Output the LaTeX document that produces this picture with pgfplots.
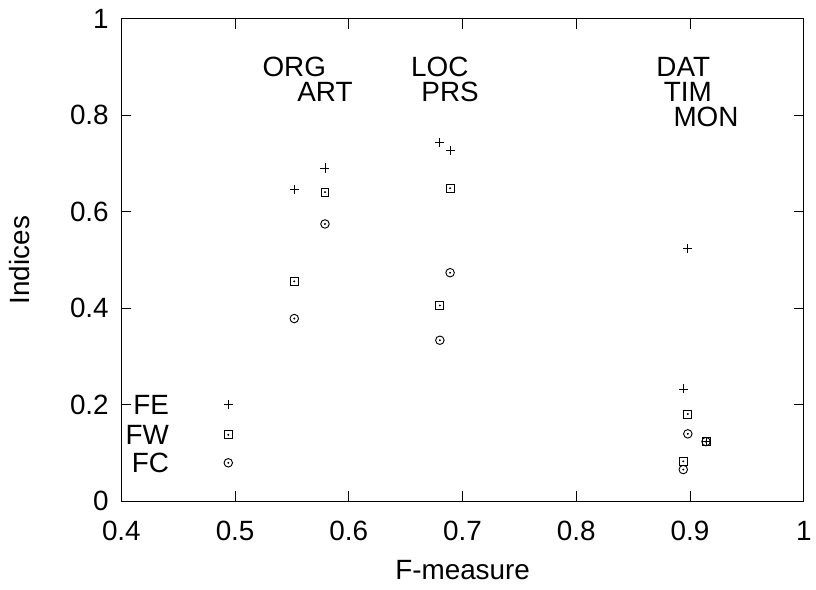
\documentclass[border=0pt]{standalone}
\usepackage{fontspec}
\setmainfont{Liberation Sans}
\usepackage{pgfplots}
\usepackage{pgfplotstable}
\pgfplotsset{compat=1.18}

% x = F-measure, FE / FW / FC indices per entity type
\pgfplotstableread{
name x    fe    fw    fc
ORG  0.552 0.647 0.456 0.379
ART  0.579 0.691 0.641 0.575
LOC  0.680 0.744 0.406 0.334
PRS  0.689 0.728 0.649 0.474
DAT  0.894 0.233 0.083 0.066
TIM  0.898 0.524 0.181 0.140
MON  0.914 0.124 0.124 0.124
}\entities

\newcommand{\bigfont}{\fontsize{21}{25}\selectfont}

\begin{document}
\begin{tikzpicture}
\begin{axis}[
    scale only axis,
    width=514.5pt, height=363.75pt,
    xmin=0.4, xmax=1, ymin=0, ymax=1,
    xtick={0.4,0.5,...,1.0},
    ytick={0,0.2,...,1.0},
    axis line style={line width=0.8pt},
    tick style={line width=0.8pt, black},
    major tick length=7.5pt,
    tick align=inside,
    /pgf/number format/assume math mode=true,
    tick label style={font=\bigfont},
    xticklabel style={yshift=-11.5pt},
    yticklabel style={xshift=-6pt},
    label style={font=\bigfont},
    xlabel={F-measure},
    ylabel={Indices},
    xlabel style={at={(axis description cs:0.5,-0.142)}, anchor=center},
    ylabel style={at={(axis description cs:-0.149,0.5)}, anchor=center},
    clip=false,
]
% FE: plus
\addplot[only marks, mark=+, mark size=3.4pt, mark options={line width=0.7pt}] table[x=x, y=fe] {\entities};
% FW: square with centre dot
\addplot[only marks, mark=square, mark size=3pt, mark options={line width=0.7pt}] table[x=x, y=fw] {\entities};
\addplot[only marks, mark=*, mark size=0.5pt] table[x=x, y=fw] {\entities};
% FC: circle with centre dot
\addplot[only marks, mark=o, mark size=3.2pt, mark options={line width=0.7pt}] table[x=x, y=fc] {\entities};
\addplot[only marks, mark=*, mark size=0.5pt] table[x=x, y=fc] {\entities};

% key, left
\addplot[only marks, mark=+, mark size=3.4pt, mark options={line width=0.7pt}] coordinates {(0.494,0.200)};
\addplot[only marks, mark=square, mark size=3pt, mark options={line width=0.7pt}] coordinates {(0.494,0.138)};
\addplot[only marks, mark=o, mark size=3.2pt, mark options={line width=0.7pt}] coordinates {(0.494,0.080)};
\addplot[only marks, mark=*, mark size=0.5pt] coordinates {(0.494,0.138) (0.494,0.080)};

\node[font=\bigfont, anchor=east] at (axis cs:0.446,0.200) {FE};
\node[font=\bigfont, anchor=east] at (axis cs:0.446,0.138) {FW};
\node[font=\bigfont, anchor=east] at (axis cs:0.446,0.080) {FC};

\node[font=\bigfont] at (axis cs:0.552,0.900) {ORG};
\node[font=\bigfont] at (axis cs:0.579,0.848) {ART};
\node[font=\bigfont] at (axis cs:0.680,0.900) {LOC};
\node[font=\bigfont] at (axis cs:0.689,0.848) {PRS};
\node[font=\bigfont] at (axis cs:0.894,0.900) {DAT};
\node[font=\bigfont] at (axis cs:0.898,0.848) {TIM};
\node[font=\bigfont] at (axis cs:0.914,0.797) {MON};
\end{axis}
\path[use as bounding box] (-91.5pt,-66.75pt) rectangle (520.5pt,378pt);
\end{tikzpicture}
\end{document}
